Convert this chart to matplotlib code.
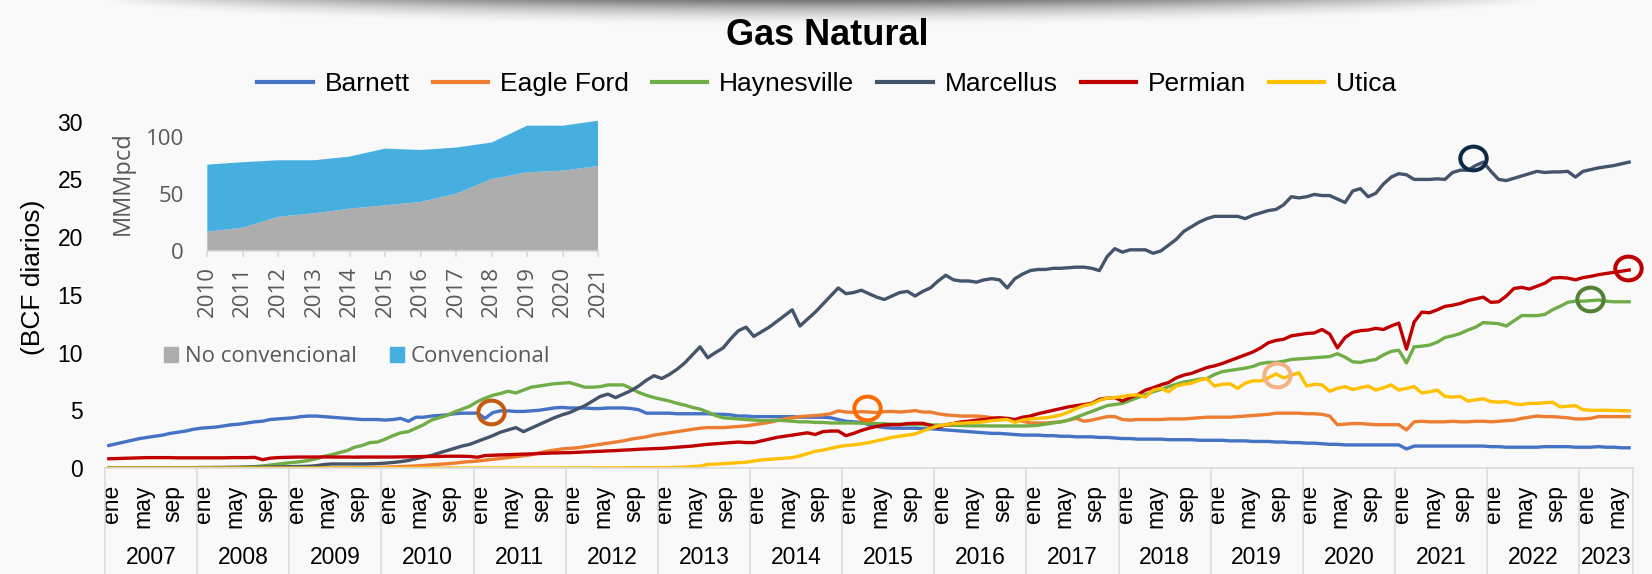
# Gas Natural - producción por cuenca (BCF diarios)
import numpy as np
import matplotlib
matplotlib.use("Agg")
from matplotlib import pyplot as plt
from matplotlib.path import Path
from matplotlib.patches import Patch
from matplotlib.transforms import blended_transform_factory, ScaledTranslation

plt.rcParams['font.family'] = ['Liberation Sans', 'DejaVu Sans']

# ---------------- datos ----------------
MESES = ["ene", "feb", "mar", "abr", "may", "jun", "jul", "ago", "sep", "oct", "nov", "dic"]
ANIOS = list(range(2007, 2024))

barnett = [
    1.95, 2.1, 2.25, 2.4, 2.55, 2.65, 2.75, 2.85, 3.0, 3.1, 3.2, 3.35,          # 2007
    3.45, 3.5, 3.55, 3.65, 3.75, 3.8, 3.9, 4.0, 4.05, 4.2, 4.25, 4.3,           # 2008
    4.35, 4.45, 4.5, 4.5, 4.45, 4.4, 4.35, 4.3, 4.25, 4.2, 4.2, 4.2,            # 2009
    4.15, 4.2, 4.3, 4.05, 4.4, 4.4, 4.5, 4.55, 4.6, 4.7, 4.75, 4.75,           # 2010
    4.75, 4.3, 4.8, 4.95, 4.95, 4.9, 4.9, 4.95, 5.0, 5.1, 5.2, 5.25,           # 2011
    5.2, 5.2, 5.2, 5.15, 5.15, 5.2, 5.2, 5.2, 5.15, 5.05, 4.75, 4.75,          # 2012
    4.75, 4.75, 4.7, 4.7, 4.7, 4.7, 4.7, 4.65, 4.65, 4.6, 4.5, 4.5,            # 2013
    4.45, 4.45, 4.45, 4.45, 4.45, 4.45, 4.4, 4.4, 4.4, 4.4, 4.35, 4.2,         # 2014
    4.05, 4.0, 3.95, 3.75, 3.6, 3.5, 3.45, 3.45, 3.45, 3.45, 3.4, 3.4,         # 2015
    3.35, 3.3, 3.25, 3.2, 3.15, 3.1, 3.05, 3.0, 3.0, 2.95, 2.9, 2.85,          # 2016
    2.85, 2.85, 2.8, 2.8, 2.75, 2.75, 2.7, 2.7, 2.7, 2.65, 2.65, 2.6,          # 2017
    2.55, 2.55, 2.5, 2.5, 2.5, 2.5, 2.45, 2.45, 2.45, 2.45, 2.4, 2.4,          # 2018
    2.4, 2.4, 2.35, 2.35, 2.35, 2.3, 2.3, 2.3, 2.25, 2.25, 2.2, 2.2,           # 2019
    2.15, 2.15, 2.1, 2.05, 2.05, 2.0, 2.0, 2.0, 2.0, 2.0, 2.0, 2.0,            # 2020
    2.0, 1.65, 1.9, 1.9, 1.9, 1.9, 1.9, 1.9, 1.9, 1.9, 1.9, 1.9,               # 2021
    1.85, 1.85, 1.8, 1.8, 1.8, 1.8, 1.8, 1.85, 1.85, 1.85, 1.85, 1.8,          # 2022
    1.8, 1.8, 1.85, 1.8, 1.8, 1.75, 1.75,                                      # 2023
]

eagle_ford = [
    0, 0, 0, 0, 0, 0, 0, 0, 0, 0, 0, 0,                                        # 2007
    0, 0, 0, 0, 0, 0, 0, 0, 0, 0, 0, 0,                                        # 2008
    0, 0, 0, 0, 0, 0, 0.01, 0.01, 0.02, 0.03, 0.04, 0.05,                      # 2009
    0.07, 0.1, 0.12, 0.15, 0.18, 0.22, 0.27, 0.32, 0.37, 0.42, 0.5, 0.55,      # 2010
    0.6, 0.68, 0.75, 0.82, 0.9, 0.98, 1.05, 1.15, 1.3, 1.45, 1.55, 1.65,       # 2011
    1.7, 1.75, 1.85, 1.95, 2.05, 2.15, 2.25, 2.35, 2.5, 2.6, 2.7, 2.85,        # 2012
    2.95, 3.05, 3.15, 3.25, 3.35, 3.45, 3.5, 3.5, 3.5, 3.55, 3.6, 3.65,        # 2013
    3.75, 3.85, 3.95, 4.1, 4.25, 4.35, 4.45, 4.5, 4.55, 4.6, 4.7, 4.95,        # 2014
    4.85, 4.82, 4.88, 4.85, 4.8, 4.88, 4.9, 4.85, 4.9, 4.97, 4.85, 4.85,       # 2015
    4.7, 4.6, 4.55, 4.5, 4.5, 4.5, 4.45, 4.35, 4.3, 4.25, 4.15, 4.05,          # 2016
    3.9, 3.9, 3.9, 3.95, 4.0, 4.15, 4.3, 4.05, 4.15, 4.3, 4.45, 4.45,          # 2017
    4.2, 4.15, 4.2, 4.2, 4.2, 4.2, 4.25, 4.25, 4.25, 4.3, 4.35, 4.4,           # 2018
    4.4, 4.4, 4.4, 4.45, 4.5, 4.55, 4.6, 4.65, 4.75, 4.75, 4.75, 4.75,         # 2019
    4.7, 4.7, 4.65, 4.5, 3.75, 3.8, 3.85, 3.85, 3.8, 3.75, 3.75, 3.75,         # 2020
    3.75, 3.3, 4.0, 4.05, 4.0, 4.0, 4.0, 4.05, 4.0, 4.0, 4.05, 4.05,           # 2021
    4.0, 4.05, 4.1, 4.15, 4.3, 4.4, 4.5, 4.45, 4.45, 4.4, 4.35, 4.25,          # 2022
    4.25, 4.3, 4.45, 4.45, 4.45, 4.45, 4.45,                                   # 2023
]

haynesville = [
    0, 0, 0, 0, 0, 0, 0, 0, 0, 0, 0, 0,                                        # 2007
    0, 0, 0, 0.02, 0.03, 0.05, 0.08, 0.12, 0.18, 0.25, 0.33, 0.42,             # 2008
    0.48, 0.55, 0.65, 0.8, 1.0, 1.15, 1.33, 1.5, 1.8, 1.95, 2.2, 2.25,         # 2009
    2.5, 2.8, 3.05, 3.15, 3.45, 3.75, 4.15, 4.35, 4.55, 4.85, 5.1, 5.35,       # 2010
    5.75, 6.05, 6.3, 6.45, 6.65, 6.5, 6.75, 7.0, 7.1, 7.2, 7.3, 7.35,          # 2011
    7.4, 7.2, 7.0, 7.0, 7.05, 7.2, 7.2, 7.2, 6.9, 6.55, 6.3, 6.1,              # 2012
    5.95, 5.8, 5.6, 5.45, 5.25, 5.1, 4.85, 4.55, 4.35, 4.3, 4.25, 4.2,         # 2013
    4.15, 4.1, 4.1, 4.15, 4.1, 4.05, 4.0, 4.0, 3.95, 3.95, 3.9, 3.9,           # 2014
    3.9, 3.9, 3.88, 3.87, 3.85, 3.83, 3.8, 3.8, 3.78, 3.76, 3.75, 3.73,        # 2015
    3.72, 3.7, 3.7, 3.68, 3.66, 3.65, 3.65, 3.64, 3.64, 3.64, 3.64, 3.64,      # 2016
    3.65, 3.7, 3.8, 3.9, 4.0, 4.15, 4.4, 4.65, 4.9, 5.15, 5.4, 5.5,            # 2017
    5.6, 5.85, 6.1, 6.35, 6.6, 6.8, 7.05, 7.25, 7.45, 7.55, 7.7, 7.75,         # 2018
    8.1, 8.35, 8.45, 8.55, 8.65, 8.8, 9.05, 9.15, 9.15, 9.25, 9.4, 9.45,       # 2019
    9.5, 9.55, 9.6, 9.65, 9.9, 9.6, 9.2, 9.15, 9.3, 9.4, 9.8, 10.1,            # 2020
    10.2, 9.1, 10.5, 10.55, 10.65, 10.9, 11.3, 11.45, 11.65, 11.95, 12.2, 12.6,   # 2021
    12.55, 12.5, 12.3, 12.75, 13.2, 13.2, 13.2, 13.3, 13.7, 14.0, 14.35, 14.45,   # 2022
    14.45, 14.5, 14.55, 14.45, 14.4, 14.4, 14.4,                               # 2023
]

marcellus = [
    0.03, 0.03, 0.03, 0.03, 0.03, 0.03, 0.03, 0.03, 0.03, 0.03, 0.03, 0.03,    # 2007
    0.04, 0.04, 0.05, 0.05, 0.06, 0.06, 0.07, 0.08, 0.08, 0.09, 0.1, 0.11,     # 2008
    0.12, 0.13, 0.15, 0.2, 0.3, 0.35, 0.35, 0.35, 0.35, 0.35, 0.36, 0.38,      # 2009
    0.42, 0.48, 0.55, 0.65, 0.8, 0.95, 1.08, 1.3, 1.5, 1.7, 1.9, 2.05,         # 2010
    2.3, 2.55, 2.8, 3.1, 3.3, 3.5, 3.15, 3.45, 3.75, 4.05, 4.35, 4.6,          # 2011
    4.8, 5.1, 5.4, 5.8, 6.2, 6.4, 6.1, 6.4, 6.7, 7.1, 7.6, 8.0,                # 2012
    7.75, 8.1, 8.55, 9.1, 9.8, 10.5, 9.55, 10.0, 10.4, 11.2, 11.9, 12.2,       # 2013
    11.4, 11.8, 12.2, 12.7, 13.2, 13.7, 12.3, 12.9, 13.5, 14.2, 14.9, 15.6,    # 2014
    15.1, 15.2, 15.4, 15.1, 14.8, 14.6, 14.9, 15.2, 15.3, 14.9, 15.3, 15.6,    # 2015
    16.2, 16.7, 16.3, 16.2, 16.2, 16.1, 16.3, 16.4, 16.3, 15.6, 16.4, 16.8,    # 2016
    17.1, 17.2, 17.2, 17.3, 17.3, 17.35, 17.4, 17.4, 17.3, 17.1, 18.3, 19.0,   # 2017
    18.7, 18.9, 18.9, 18.9, 18.6, 18.8, 19.3, 19.8, 20.5, 20.9, 21.3, 21.6,    # 2018
    21.8, 21.8, 21.8, 21.8, 21.6, 21.9, 22.1, 22.3, 22.4, 22.8, 23.5, 23.4,    # 2019
    23.5, 23.7, 23.6, 23.6, 23.3, 23.0, 24.0, 24.2, 23.5, 23.8, 24.6, 25.2,    # 2020
    25.5, 25.4, 25.0, 25.0, 25.0, 25.05, 25.0, 25.6, 25.8, 25.8, 26.2, 26.5,   # 2021
    25.7, 25.0, 24.9, 25.1, 25.3, 25.5, 25.7, 25.6, 25.65, 25.65, 25.7, 25.2,  # 2022
    25.7, 25.85, 26.0, 26.1, 26.2, 26.35, 26.5,                                # 2023
]

permian = [
    0.8, 0.82, 0.84, 0.86, 0.88, 0.9, 0.9, 0.9, 0.9, 0.88, 0.88, 0.88,         # 2007
    0.88, 0.88, 0.88, 0.88, 0.9, 0.9, 0.9, 0.92, 0.72, 0.85, 0.9, 0.92,        # 2008
    0.94, 0.95, 0.95, 0.95, 0.96, 0.95, 0.95, 0.95, 0.94, 0.95, 0.95, 0.95,    # 2009
    0.95, 0.95, 0.96, 0.97, 0.98, 1.0, 1.0, 1.0, 1.02, 1.02, 1.02, 1.0,        # 2010
    0.93, 1.08, 1.1, 1.13, 1.15, 1.18, 1.2, 1.22, 1.25, 1.28, 1.3, 1.32,       # 2011
    1.33, 1.36, 1.39, 1.42, 1.45, 1.48, 1.51, 1.55, 1.58, 1.62, 1.65, 1.68,    # 2012
    1.7, 1.75, 1.8, 1.85, 1.9, 1.98, 2.05, 2.1, 2.15, 2.2, 2.25, 2.2,          # 2013
    2.2, 2.35, 2.5, 2.65, 2.75, 2.85, 2.95, 3.05, 2.9, 3.15, 3.2, 3.2,         # 2014
    2.8, 3.0, 3.25, 3.45, 3.6, 3.73, 3.75, 3.75, 3.85, 3.87, 3.87, 3.7,        # 2015
    3.5, 3.75, 3.85, 4.0, 4.05, 4.15, 4.2, 4.3, 4.35, 4.3, 4.2, 4.4,           # 2016
    4.5, 4.7, 4.85, 5.0, 5.15, 5.3, 5.4, 5.5, 5.6, 5.95, 6.05, 6.1,            # 2017
    5.8, 6.1, 6.35, 6.75, 6.95, 7.2, 7.4, 7.8, 8.05, 8.2, 8.45, 8.7,           # 2018
    8.85, 9.05, 9.3, 9.55, 9.8, 10.05, 10.4, 10.85, 11.05, 11.15, 11.45, 11.55,   # 2019
    11.65, 11.7, 12.0, 11.6, 10.4, 11.3, 11.75, 11.9, 11.95, 12.1, 12.0, 12.3,    # 2020
    12.55, 10.3, 12.65, 13.5, 13.45, 13.7, 14.0, 14.1, 14.25, 14.5, 14.65, 14.8,  # 2021
    14.35, 14.4, 14.9, 15.55, 15.65, 15.5, 15.75, 16.0, 16.45, 16.5, 16.45, 16.3, # 2022
    16.5, 16.6, 16.75, 16.85, 16.95, 17.05, 17.15,                             # 2023
]

utica = [
    0, 0, 0, 0, 0, 0, 0, 0, 0, 0, 0, 0,                                        # 2007
    0, 0, 0, 0, 0, 0, 0, 0, 0, 0, 0, 0,                                        # 2008
    0, 0, 0, 0, 0, 0, 0, 0, 0, 0, 0, 0,                                        # 2009
    0, 0, 0, 0, 0, 0, 0, 0, 0, 0, 0, 0,                                        # 2010
    0, 0, 0, 0, 0, 0, 0, 0, 0, 0, 0, 0,                                        # 2011
    0.01, 0.01, 0.01, 0.01, 0.02, 0.02, 0.02, 0.02, 0.03, 0.03, 0.03, 0.03,    # 2012
    0.03, 0.04, 0.05, 0.08, 0.12, 0.17, 0.3, 0.33, 0.37, 0.42, 0.46, 0.5,      # 2013
    0.6, 0.7, 0.75, 0.8, 0.85, 0.9, 1.05, 1.25, 1.45, 1.55, 1.7, 1.85,         # 2014
    1.95, 2.0, 2.1, 2.2, 2.35, 2.5, 2.65, 2.75, 2.85, 2.95, 3.2, 3.45,         # 2015
    3.64, 3.75, 3.85, 3.88, 3.92, 3.95, 4.0, 4.1, 4.15, 4.2, 3.95, 4.15,       # 2016
    4.25, 4.3, 4.35, 4.45, 4.6, 4.85, 5.15, 5.4, 5.55, 5.85, 6.05, 6.1,        # 2017
    6.2, 6.3, 6.33, 6.15, 6.75, 6.9, 6.6, 7.1, 7.25, 7.35, 7.6, 7.75,          # 2018
    7.1, 7.25, 7.3, 6.9, 7.35, 7.55, 7.55, 7.8, 8.15, 7.8, 8.05, 8.25,         # 2019
    7.1, 7.25, 7.2, 6.65, 6.9, 7.05, 6.8, 6.95, 7.1, 6.75, 6.95, 7.2,          # 2020
    6.75, 6.9, 7.05, 6.5, 6.6, 6.75, 6.2, 6.15, 6.2, 5.8, 5.9, 6.0,            # 2021
    5.75, 5.7, 5.75, 5.55, 5.5, 5.6, 5.6, 5.65, 5.7, 5.3, 5.35, 5.4,           # 2022
    5.05, 5.0, 5.0, 5.0, 4.98, 4.97, 4.95,                                     # 2023
]

# círculos resaltados (índice de mes, valor)
circ_x = [49.75, 98.7, 152.2, 177.7, 192.9, 197.9]
circ_y = [4.88, 5.17, 8.06, 26.83, 14.6, 17.3]
circ_col = ["#C55A11", "#FF6A00", "#F4B183", "#0D2B48", "#548235", "#C00000"]

# gráfico pequeño (MMMpcd)
anios_ins = list(range(2010, 2022))
no_conv = [16.9, 20.4, 30.0, 32.9, 37.0, 39.9, 42.9, 50.1, 63.0, 68.8, 70.2, 74.3]
conv = [58.6, 57.2, 49.3, 46.4, 45.5, 49.6, 45.4, 40.3, 31.8, 40.8, 39.3, 39.6]

series = [
    ("Barnett", barnett, "#4472C4"),
    ("Eagle Ford", eagle_ford, "#ED7D31"),
    ("Haynesville", haynesville, "#70AD47"),
    ("Marcellus", marcellus, "#44546A"),
    ("Permian", permian, "#C00000"),
    ("Utica", utica, "#FFC000"),
]

# ---------------- figura ----------------
W, H = 1652, 574
def fx(px):
    return px / W
def fy(py):
    return 1 - py / H

fig = plt.figure(figsize=(W / 100, H / 100), dpi=100, facecolor="#F9F9F9")

# sombra arriba (suave, más profunda en el centro)
hh = 40
yy, xx = np.mgrid[0:hh, 0:W]
u = np.clip(1 - ((xx - 820) / 720.0) ** 2, 0, None)
prof = 27 * np.sqrt(u)
alfa = 0.52 * np.clip(1 - yy / np.maximum(prof, 1), 0, 1) ** 1.8 * u ** 1.0
sombra = np.zeros((hh, W, 4))
sombra[..., 3] = alfa
fig.figimage(sombra, xo=0, yo=H - hh, origin="upper", zorder=-1)

ax = fig.add_axes([fx(105), fy(468), fx(1633) - fx(105), fy(121.7) - fy(468)])
ax.set_facecolor("none")

x = np.arange(len(barnett))
for nombre, vals, col in series:
    ax.plot(x, vals, color=col, lw=2.4, label=nombre, solid_joinstyle="round")

circ = Path(Path.unit_circle().vertices * [1.0, 0.9], Path.unit_circle().codes)
for cx, cy, cc in zip(circ_x, circ_y, circ_col):
    ax.plot(cx, cy, marker=circ, ms=19, mfc="none", mec=cc, mew=2.9, ls="none",
            zorder=5, clip_on=False)

ax.set_xlim(-0.5, len(x) - 0.5)
ax.set_ylim(0, 30)
ax.set_yticks(range(0, 31, 5))
for s in ["top", "right", "left"]:
    ax.spines[s].set_visible(False)
ax.spines["bottom"].set_color("#D9D9D9")
ax.spines["bottom"].set_linewidth(1.2)
ax.tick_params(axis="y", length=0, pad=16, labelsize=16.5)

ticks = x[::4]
ax.set_xticks(ticks)
ax.set_xticklabels([MESES[i % 12] for i in ticks], rotation=90)
ax.tick_params(axis="x", length=0, pad=12, labelsize=16.5)
desp = ScaledTranslation(3 / 100, 0, fig.dpi_scale_trans)
for lab in ax.get_xticklabels():
    lab.set_transform(lab.get_transform() + desp)

# años y separadores
trans = blended_transform_factory(ax.transData, fig.transFigure)
bordes = [12 * k - 0.5 for k in range(len(ANIOS))] + [len(x) - 0.5]
for b in bordes:
    ax.plot([b, b], [fy(468), 0], transform=trans, color="#D9D9D9", lw=1.1, clip_on=False)
for k, anio in enumerate(ANIOS):
    ax.text((bordes[k] + bordes[k + 1]) / 2, fy(558), str(anio), transform=trans,
            ha="center", va="center", fontsize=16.5)

fig.text(fx(33), fy(277.5), "(BCF diarios)", rotation=90, ha="center", va="center", fontsize=19)
fig.text(fx(827), fy(45), "Gas Natural", ha="center", va="baseline", fontsize=26, fontweight="bold")

leg = fig.legend(*ax.get_legend_handles_labels(), loc="center", bbox_to_anchor=(fx(827), fy(84)),
                 ncol=6, frameon=False, fontsize=19, handlelength=2.1, handletextpad=0.45,
                 columnspacing=0.87)
for l in leg.get_lines():
    l.set_linewidth(3)

# ---------------- gráfico pequeño ----------------
gris, azul = "#ADADAD", "#46AFE0"
fuente_ins = ["Open Sans", "DejaVu Sans"]
axi = fig.add_axes([fx(207.3), fy(251), fx(598.4) - fx(207.3), fy(113.7) - fy(251)])
axi.set_facecolor("none")
axi.stackplot(anios_ins, no_conv, conv, colors=[gris, azul], lw=0)
axi.set_xlim(anios_ins[0], anios_ins[-1])
axi.set_ylim(0, 120)
axi.set_yticks([0, 50, 100])
axi.set_xticks(anios_ins)
for s in ["top", "right", "left"]:
    axi.spines[s].set_visible(False)
axi.spines["bottom"].set_color("#D9D9D9")
axi.spines["bottom"].set_linewidth(1.1)
axi.tick_params(axis="x", length=4, width=1.1, color="#D9D9D9", pad=7, labelsize=16,
                labelcolor="#595959", labelrotation=90)
axi.tick_params(axis="y", length=0, pad=17, labelsize=16, labelcolor="#595959")
for lab in axi.get_xticklabels() + axi.get_yticklabels():
    lab.set_fontfamily(fuente_ins)

fig.text(fx(123), fy(183), "MMMpcd", rotation=90, ha="center", va="center", fontsize=17,
         color="#595959", family=fuente_ins)

fig.legend([Patch(color=gris), Patch(color=azul)], ["No convencional", "Convencional"],
           loc="center left", bbox_to_anchor=(fx(153), fy(357)), ncol=2, frameon=False,
           borderpad=0, prop={"family": fuente_ins, "size": 16}, labelcolor="#595959",
           handlelength=0.62, handleheight=0.68, handletextpad=0.3, columnspacing=1.5)

plt.savefig("out.png", facecolor=fig.get_facecolor())
